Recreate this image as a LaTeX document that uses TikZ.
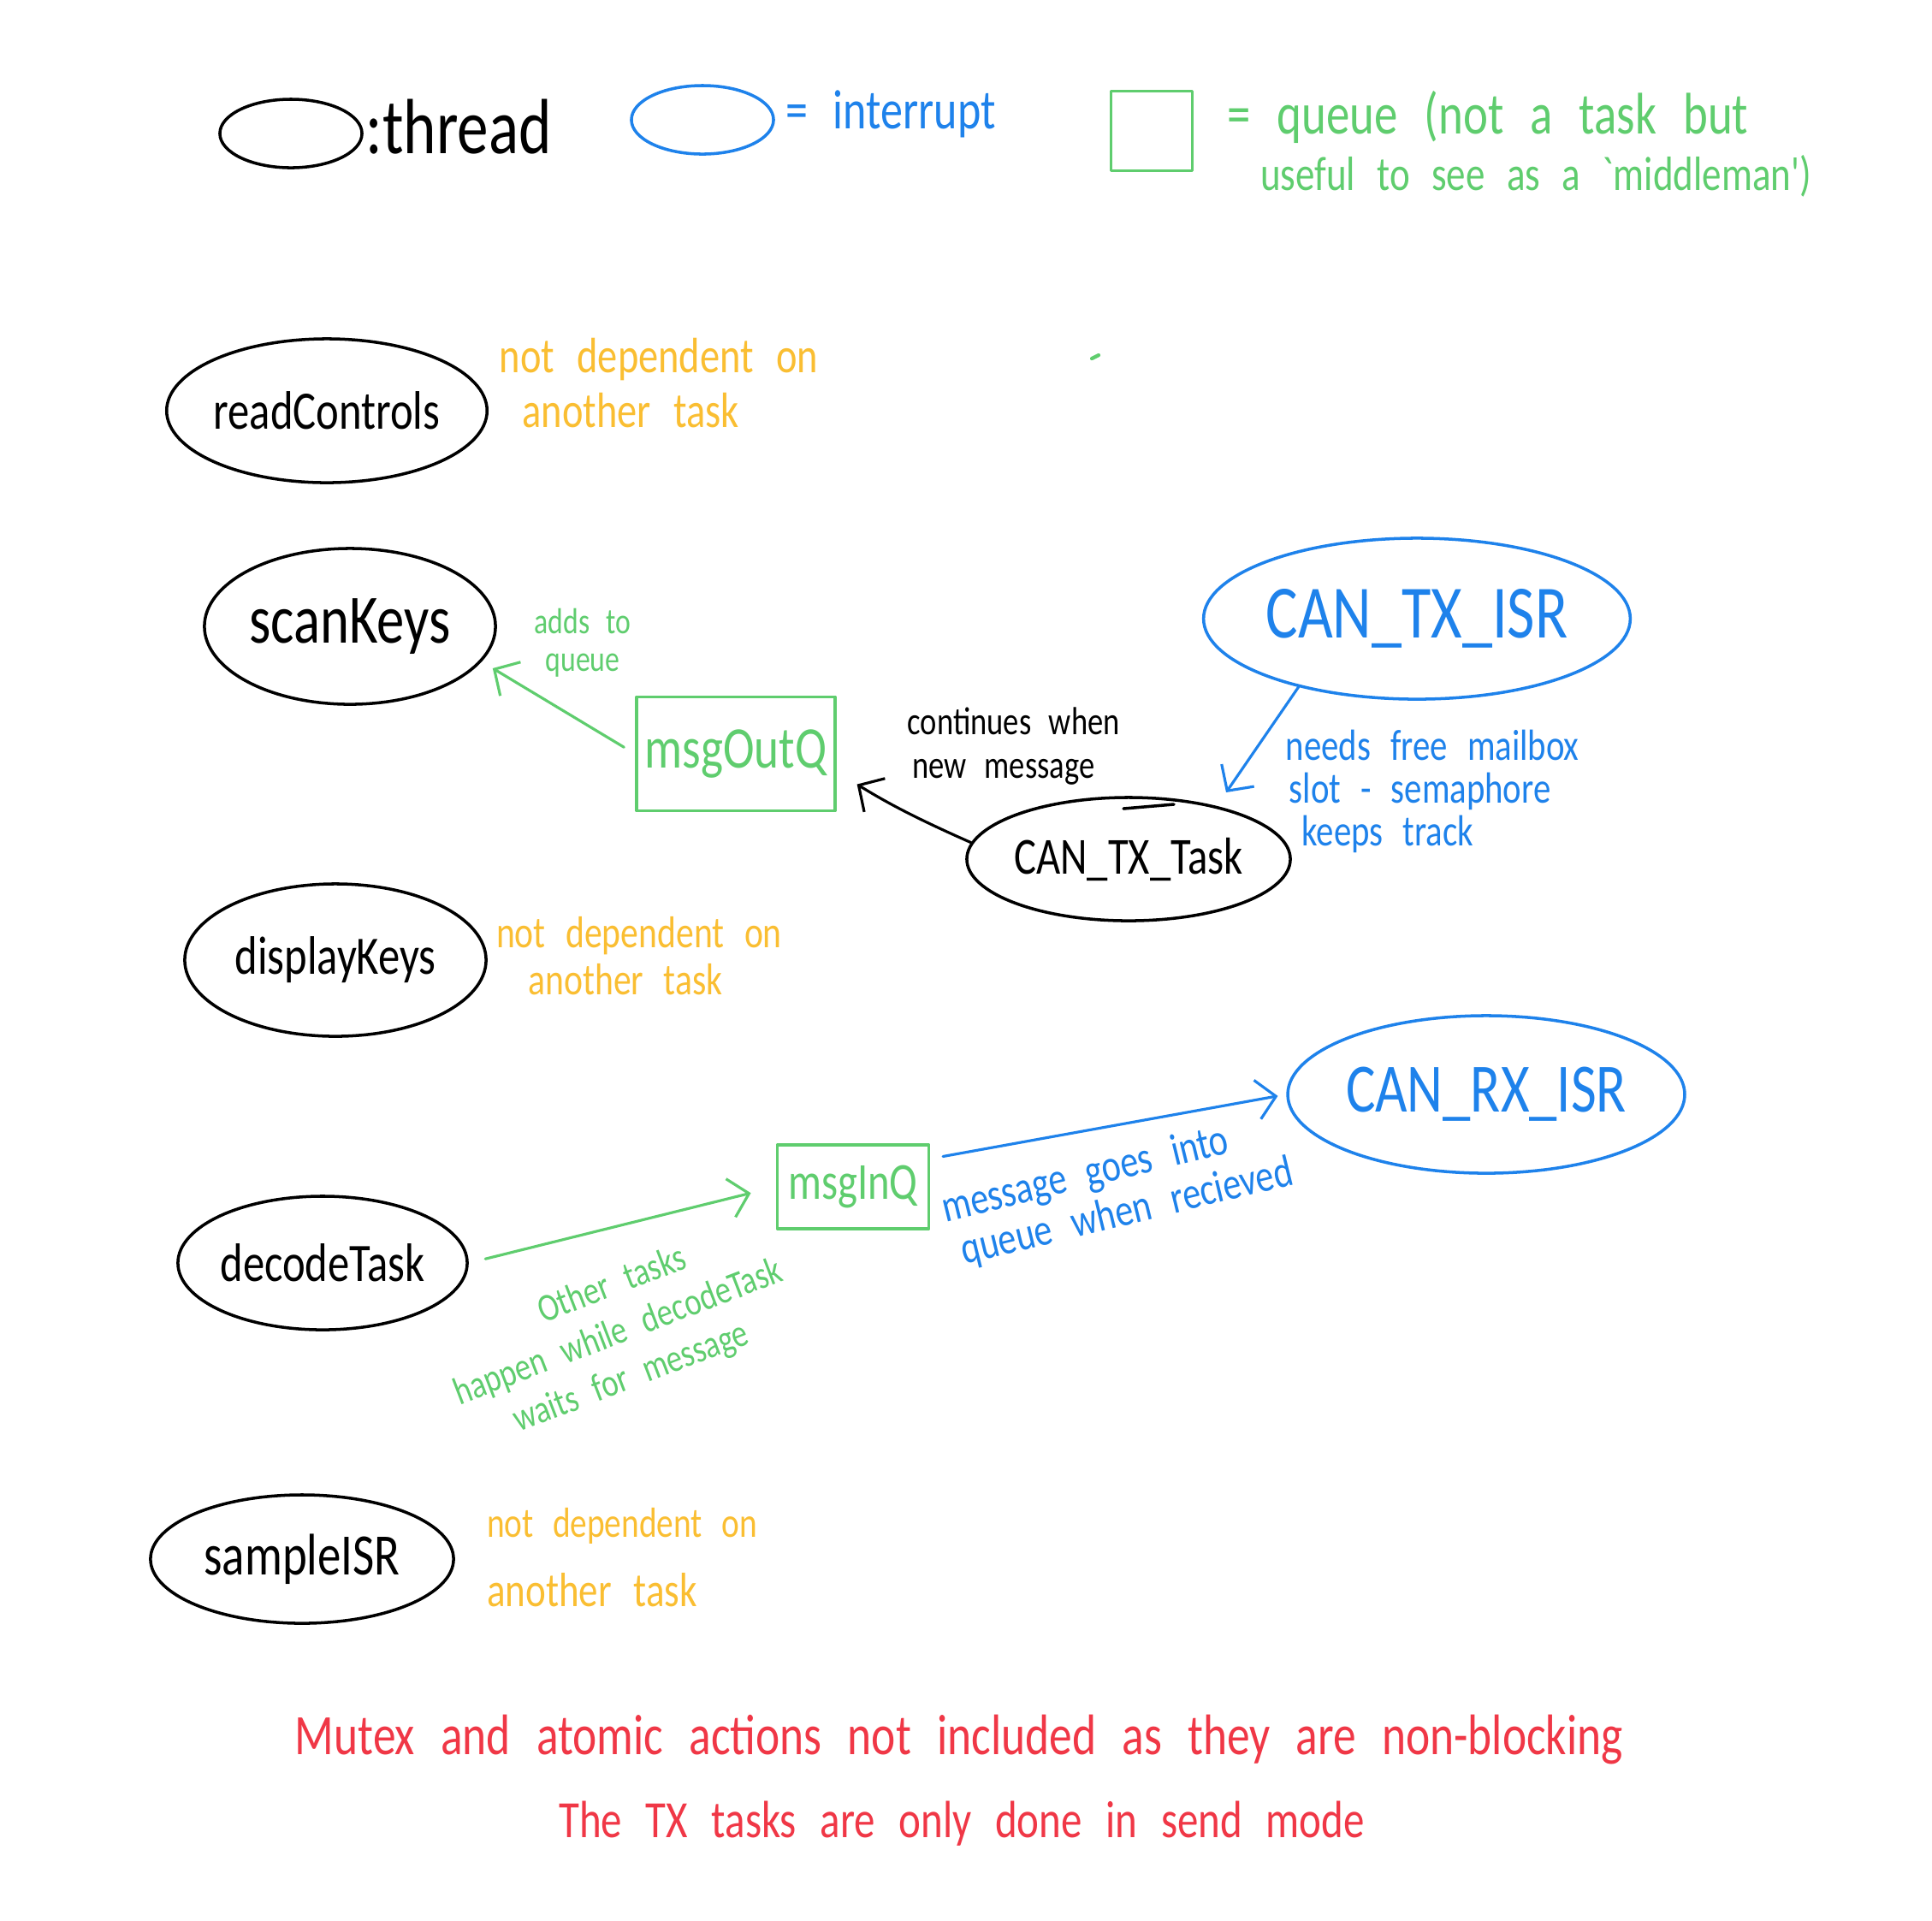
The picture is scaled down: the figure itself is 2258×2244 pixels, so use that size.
\documentclass[tikz,border=0pt]{standalone}
\usepackage{fontspec}
\newfontfamily\hand{Carlito}[FakeStretch=0.8,WordSpace=2.5]
\usetikzlibrary{shapes.geometric,arrows.meta}
\definecolor{hblue}{RGB}{30,130,235}
\definecolor{hgreen}{RGB}{95,205,110}
\definecolor{horange}{RGB}{250,190,50}
\definecolor{hred}{RGB}{240,55,70}
\begin{document}
\begin{tikzpicture}[x=0.01cm,y=-0.01cm,line cap=round,line join=round,
  thread/.style={ellipse,draw=black,line width=1pt,inner sep=0pt},
  intr/.style={ellipse,draw=hblue,line width=1pt,inner sep=0pt,text=hblue},
  queue/.style={rectangle,draw=hgreen,line width=1pt,inner sep=0pt,text=hgreen},
  hw/.style={font=\hand\fontsize{#1}{#1}\selectfont,inner sep=0pt},
  barb/.style={-{Straight Barb[length=2.2mm,width=4.6mm]},line width=0.9pt}
]
\useasboundingbox[fill=white] (0,0) rectangle (2258,2244);

% legend
\node[thread,minimum width=1.66cm,minimum height=0.80cm] (legthread) at (340,156) {};
\node[hw=26] (legthreadtxt) at (536,148) {:thread};
\node[intr,minimum width=1.66cm,minimum height=0.80cm] (legintr) at (821,140) {};
\node[hw=18.5,text=hblue] (legintrtxt) at (1041,133) {= interrupt};
\node[queue,minimum width=0.95cm,minimum height=0.93cm] (legqueue) at (1346,153) {};
\node[hw=19.5,text=hgreen] (legq1) at (1739,137) {= queue (not a task but};
\node[hw=16,text=hgreen] (legq2) at (1795,206) {useful to see as a `middleman')};

% threads and interrupts
\node[thread,minimum width=3.52cm,minimum height=1.68cm,hw=18] (readc) at (382,480) {readControls};
\node[thread,minimum width=3.40cm,minimum height=1.82cm,hw=23] (scan) at (409,732) {scanKeys};
\node[thread,minimum width=3.52cm,minimum height=1.78cm,hw=18] (disp) at (392,1122) {displayKeys};
\node[thread,minimum width=3.32cm,minimum height=1.56cm,hw=18] (dec) at (377,1476) {decodeTask};
\node[thread,minimum width=3.54cm,minimum height=1.50cm,hw=19.5] (samp) at (353,1822) {sampleISR};
\node[thread,minimum width=3.62cm,minimum height=1.44cm,hw=17.3] (txtask) at (1319,1004) {CAN\_TX\_Task};
\node[intr,minimum width=4.90cm,minimum height=1.88cm,hw=25] (txisr) at (1656,723) {CAN\_TX\_ISR};
\node[intr,minimum width=4.50cm,minimum height=1.84cm,hw=23] (rxisr) at (1737,1279) {CAN\_RX\_ISR};

% queues
\node[queue,minimum width=2.32cm,minimum height=1.33cm,hw=19.6] (msgout) at (860,881) {msgOutQ};
\node[queue,minimum width=1.77cm,minimum height=0.98cm,hw=17.3] (msgin) at (997,1387) {msgInQ};

% small strokes
\draw[line width=1pt] (1313,945) -- (1372,940);
\draw[hgreen,line width=1.2pt] (1276,419) -- (1284,415);

% orange notes
\node[hw=16.5,text=horange] (n1a) at (770,420) {not dependent on};
\node[hw=16.5,text=horange] (n1b) at (737,480) {another task};
\node[hw=14.8,text=horange] (n2a) at (747,1094) {not dependent on};
\node[hw=14.8,text=horange] (n2b) at (731,1145) {another task};
\node[hw=14,text=horange] (n3a) at (727,1783) {not dependent on};
\node[hw=16,text=horange] (n3b) at (692,1858) {another task};

% connectors
\draw[barb,hgreen,shorten <=1.5mm,shorten >=1.5mm] (msgout.west) -- (scan.-15);
\node[font=\hand\fontsize{12}{12.5}\selectfont,inner sep=0pt,align=center,text=hgreen] (adds) at (681,751) {adds to\\queue};

\draw[barb,black,shorten >=2.8mm] (txtask.174) to[bend left=4] (msgout.-10);
\node[font=\hand\fontsize{13}{14.5}\selectfont,inner sep=0pt,align=left,anchor=west] (cont) at (1060,872) {continues when\\\hspace*{0.6mm}new message};

\coordinate (txend) at (1433,926);
\draw[barb,hblue] (txisr.210) -- (txend);
\node[font=\hand\fontsize{14.5}{14.2}\selectfont,inner sep=0pt,align=left,anchor=north west,text=hblue] (sem) at (1502,852) {needs free mailbox\\\hspace*{0.4mm}slot - semaphore\\\hspace*{1.9mm}keeps track};

\draw[barb,hgreen,shorten <=2mm,shorten >=3mm] (dec.east) -- (msgin.west);
\node[font=\hand\fontsize{13}{15.5}\selectfont,inner sep=0pt,align=center,text=hgreen,rotate=21] (other) at (723,1558) {\hspace*{2.6mm}Other tasks\\happen while decodeTask\\\hspace*{-1mm}waits for message};

\draw[barb,hblue,shorten <=1.5mm,shorten >=1mm] (msgin.20) -- (rxisr.west);
\node[font=\hand\fontsize{15}{15.3}\selectfont,inner sep=0pt,align=center,text=hblue,rotate=13.7] (mg) at (1275,1400) {message goes into\\\hspace*{7.4mm}queue when recieved};

% red notes
\node[hw=19,text=hred] (reda) at (1121,2033) {Mutex and atomic actions not included as they are non-blocking};
\node[hw=17.4,text=hred] (redb) at (1124,2131) {The TX tasks are only done in send mode};
\end{tikzpicture}
\end{document}
